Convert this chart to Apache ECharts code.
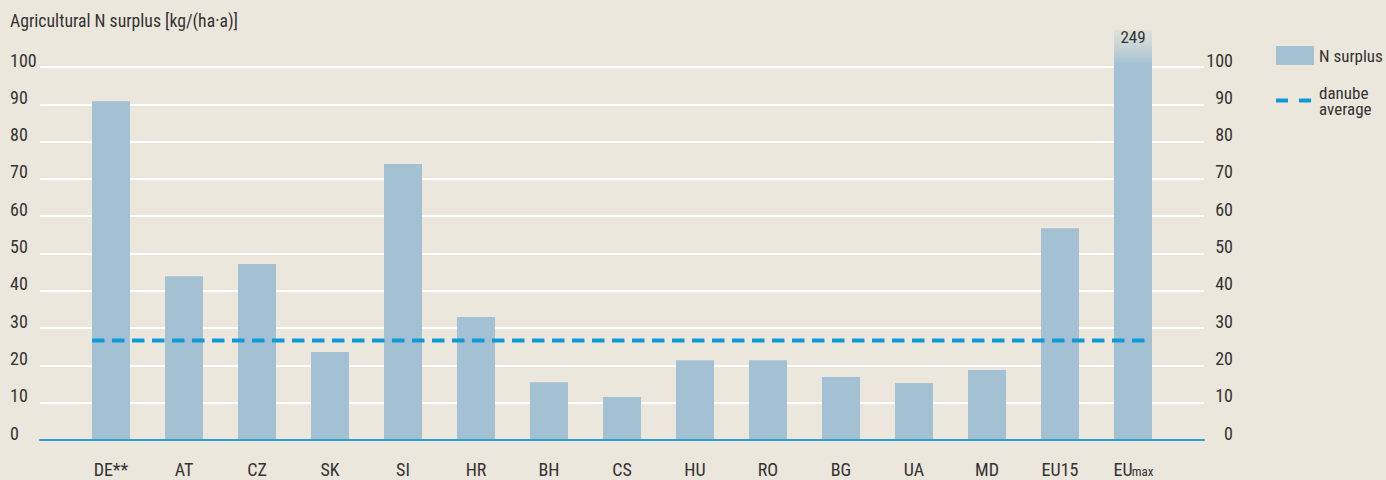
<!DOCTYPE html>
<html>
<head>
<meta charset="utf-8">
<script src="https://cdn.jsdelivr.net/npm/echarts@6/dist/echarts.min.js"></script>
<style>
  html, body { margin: 0; padding: 0; background: #ece7dc; }
  #main { width: 1386px; height: 480px; }
  /* no condensed webfont offline, so squeeze Roboto through its width axis */
  #main text, #main tspan { font-stretch: 75% !important; }
</style>
</head>
<body>
<div id="main"></div>
<script>
// data
var categories = ['DE**', 'AT', 'CZ', 'SK', 'SI', 'HR', 'BH', 'CS', 'HU', 'RO', 'BG', 'UA', 'MD', 'EU15', 'EUmax'];
var surplus = [90.8, 43.9, 47.2, 23.6, 74.0, 33.0, 15.5, 11.5, 21.4, 21.4, 16.9, 15.3, 18.8, 56.8, 249];
var danubeAverage = 26.7;
var yMax = 100;
var yInterval = 10;
var cutTop = 110; // bars above this are cut off and faded

var font = 'Roboto, sans-serif';
var textColor = '#333333';
var barColor = '#a3c1d3';
var lineColor = '#0e9ad7';

var pxPerUnit = 3.73;
var bottomPx = 40;
var barWidth = 38;
var bandWidth = 73;
var half = barWidth / 2 / bandWidth;

var barData = surplus.map(function (v) {
    if (v <= cutTop) return v;
    return {
        value: cutTop,
        itemStyle: {
            color: {
                type: 'linear', x: 0, y: 0, x2: 0, y2: 1,
                colorStops: [
                    { offset: 0, color: 'rgba(163,193,211,0.15)' },
                    { offset: 0.045, color: 'rgba(163,193,211,0.55)' },
                    { offset: 0.085, color: barColor },
                    { offset: 1, color: barColor }
                ]
            }
        },
        label: {
            show: true,
            position: 'insideTop',
            distance: 0,
            lineHeight: 15,
            formatter: String(v),
            color: textColor,
            fontFamily: font,
            fontSize: 17
        }
    };
});

var chart = echarts.init(document.getElementById('main'), null, { renderer: 'svg' });
var option = {
    backgroundColor: '#ece7dc',
    textStyle: { fontFamily: font },
    title: {
        text: 'Agricultural N surplus [kg/(ha·a)]',
        left: 10,
        top: 12,
        padding: 0,
        textStyle: { color: textColor, fontSize: 17.7, fontWeight: 'normal', fontFamily: font }
    },
    legend: {
        orient: 'vertical',
        left: 1274,
        top: 46,
        padding: 0,
        itemWidth: 38,
        itemHeight: 19,
        itemGap: 19,
        textStyle: { color: textColor, fontSize: 17, fontFamily: font, lineHeight: 16 },
        data: [
            { name: 'N surplus', icon: 'rect' },
            {
                name: 'danube\naverage',
                itemStyle: { opacity: 0 },
                lineStyle: { type: [12, 11], width: 4, color: lineColor }
            }
        ]
    },
    grid: [
        { left: 40, right: 182, top: 440 - yMax * pxPerUnit, bottom: bottomPx, outerBoundsMode: 'none' },
        {
            left: 74.5, right: 1386 - 74.5 - bandWidth * categories.length,
            top: 440 - cutTop * pxPerUnit, bottom: bottomPx, outerBoundsMode: 'none'
        }
    ],
    xAxis: [
        {
            gridIndex: 0, type: 'value', min: 0, max: 1, z: 5,
            axisLine: { show: true, lineStyle: { color: '#2f9fd3', width: 2 } },
            axisTick: { show: false }, axisLabel: { show: false }, splitLine: { show: false }
        },
        {
            gridIndex: 1, type: 'category', data: categories,
            axisLine: { show: false }, axisTick: { show: false },
            axisLabel: {
                interval: 0,
                margin: 21,
                lineHeight: 17,
                color: textColor,
                fontSize: 18,
                fontFamily: font,
                formatter: function (v) {
                    return v === 'EUmax' ? '{a|EU}{b|max}' : v;
                },
                rich: {
                    a: { fontSize: 18, lineHeight: 17, fontFamily: font, color: textColor, width: 19 },
                    b: { fontSize: 13, lineHeight: 17, fontFamily: font, color: textColor, width: 20, verticalAlign: 'bottom' }
                }
            }
        },
        {
            gridIndex: 1, type: 'value', min: -0.5, max: categories.length - 0.5, show: false
        }
    ],
    yAxis: [
        {
            gridIndex: 0, type: 'value', min: 0, max: yMax, interval: yInterval,
            axisLine: { show: false }, axisTick: { show: false },
            splitLine: { lineStyle: { color: '#ffffff', width: 2 } },
            axisLabel: {
                align: 'left', margin: 30, verticalAlign: 'bottom', lineHeight: 14,
                color: textColor, fontSize: 18, fontFamily: font
            }
        },
        {
            gridIndex: 0, type: 'value', position: 'right', min: 0, max: yMax, interval: yInterval,
            axisLine: { show: false }, axisTick: { show: false }, splitLine: { show: false },
            axisLabel: {
                align: 'right', margin: 29, verticalAlign: 'bottom', lineHeight: 14,
                color: textColor, fontSize: 18, fontFamily: font
            }
        },
        {
            gridIndex: 1, type: 'value', min: 0, max: cutTop, show: false
        }
    ],
    series: [
        {
            name: 'N surplus',
            type: 'bar',
            xAxisIndex: 1,
            yAxisIndex: 2,
            barWidth: barWidth,
            itemStyle: { color: barColor },
            data: barData,
            z: 2
        },
        {
            name: 'danube\naverage',
            type: 'line',
            xAxisIndex: 2,
            yAxisIndex: 2,
            symbol: 'none',
            lineStyle: { color: lineColor, width: 4, type: [12.5, 7.5] },
            data: [[-half, danubeAverage], [categories.length - 1 + half, danubeAverage]],
            z: 4,
            silent: true
        }
    ]
};
chart.setOption(option);
</script>
</body>
</html>
